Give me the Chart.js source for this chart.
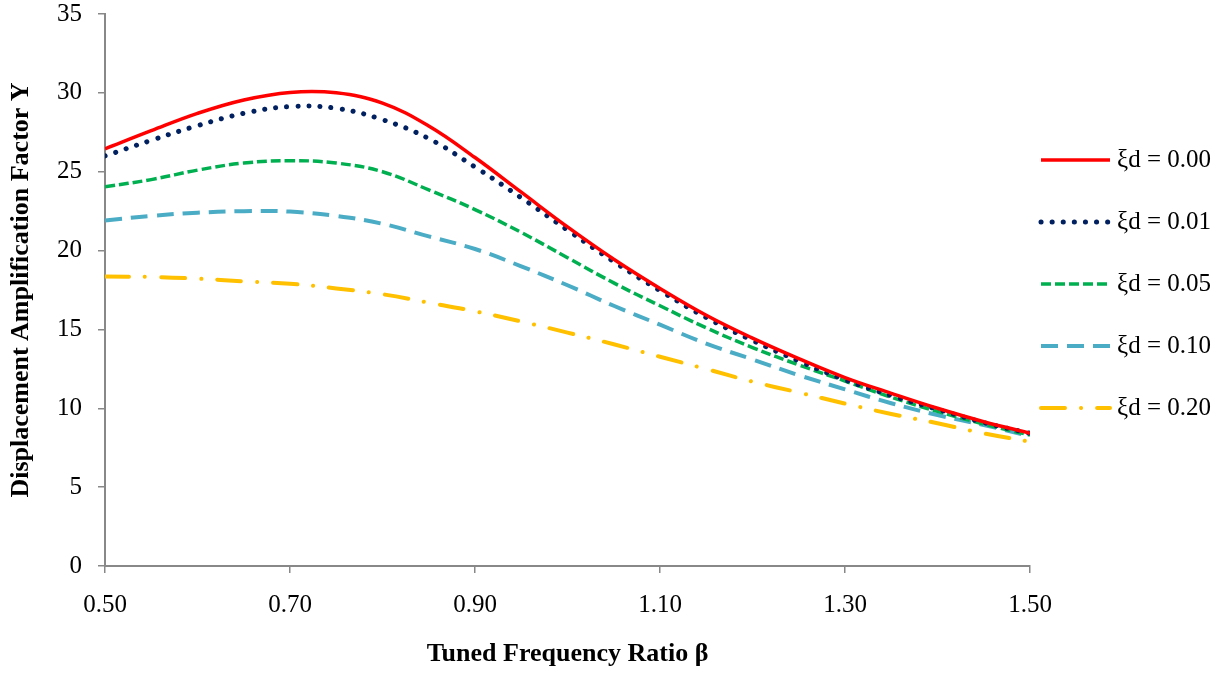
<!DOCTYPE html>
<html lang="en">
<head>
<meta charset="UTF-8">
<title>Displacement Amplification Factor</title>
<style>
  body { margin: 0; background: #fff; }
  #wrap { width: 1228px; height: 674px; position: relative; }
</style>
</head>
<body>
<div id="wrap"><canvas id="chart"></canvas></div>
<script src="https://cdn.jsdelivr.net/npm/chart.js"></script>
<script>
// tuned frequency ratio beta
const beta = [0.50, 0.55, 0.60, 0.65, 0.70, 0.75, 0.80, 0.85, 0.90, 0.95, 1.00,
              1.05, 1.10, 1.15, 1.20, 1.25, 1.30, 1.35, 1.40, 1.45, 1.50];

const xTicks = [0.5, 0.7, 0.9, 1.1, 1.3, 1.5];
const yTicks = [0, 5, 10, 15, 20, 25, 30, 35];

// damping of the damper (legend labels)
const damping = ['0.00', '0.01', '0.05', '0.10', '0.20'];

// amplification factor Y
const y000 = [26.45, 27.6, 28.7, 29.55, 30.03, 30.0, 29.35, 27.9, 25.9, 23.7, 21.5,
              19.45, 17.6, 15.9, 14.45, 13.15, 11.95, 10.95, 10.0, 9.15, 8.42];
const y001 = [26.0, 26.99, 27.92, 28.7, 29.13, 29.02, 28.3, 27.1, 25.3, 23.35, 21.3,
              19.3, 17.46, 15.75, 14.3, 13.0, 11.8, 10.8, 9.93, 9.09, 8.41];
const y005 = [24.05, 24.5, 25.1, 25.55, 25.7, 25.55, 25.0, 23.85, 22.6, 21.15, 19.55,
              17.95, 16.5, 15.1, 13.85, 12.75, 11.73, 10.7, 9.8, 9.0, 8.3];
const y010 = [21.9, 22.2, 22.4, 22.5, 22.47, 22.2, 21.7, 20.9, 20.1, 19.0, 17.8,
              16.5, 15.3, 14.1, 13.1, 12.1, 11.2, 10.32, 9.57, 8.94, 8.24];
const y020 = [18.35, 18.33, 18.22, 18.05, 17.9, 17.6, 17.23, 16.7, 16.15, 15.5, 14.8,
              14.06, 13.27, 12.49, 11.69, 11.0, 10.3, 9.64, 9.05, 8.41, 7.88];

const serif = "'Liberation Serif', 'Times New Roman', serif";
const axisGrey = '#888888';

function pts(ys) {
    return beta.map((b, i) => ({ x: b, y: ys[i] }));
}

function line(label, ys, color, width, dash, cap) {
    return {
        label: 'ξd = ' + label,
        data: pts(ys),
        borderColor: color,
        backgroundColor: color,
        borderWidth: width,
        borderDash: dash,
        borderCapStyle: cap,
        pointRadius: 0,
        tension: 0.4,
        fill: false
    };
}

// legend drawn by hand: long line samples, wide row spacing
const sideLegend = {
    id: 'sideLegend',
    afterDraw(chart) {
        const ctx = chart.ctx;
        const area = chart.chartArea;
        const x1 = area.right + 11;
        const x2 = x1 + 69;
        const midY = (area.top + area.bottom) / 2 - 6;
        const step = 62;
        const n = chart.data.datasets.length;
        chart.data.datasets.forEach((ds, i) => {
            const y = midY + (i - (n - 1) / 2) * step;
            ctx.save();
            ctx.strokeStyle = ds.borderColor;
            ctx.lineWidth = ds.borderWidth;
            ctx.lineCap = ds.borderCapStyle;
            ctx.setLineDash(ds.borderDash);
            ctx.beginPath();
            ctx.moveTo(x1, y);
            ctx.lineTo(x2, y);
            ctx.stroke();
            ctx.setLineDash([]);
            ctx.fillStyle = '#000';
            ctx.font = '25px ' + serif;
            ctx.textBaseline = 'middle';
            ctx.textAlign = 'left';
            ctx.fillText(ds.label, x2 + 7, y);
            ctx.restore();
        });
    }
};

const ctx = document.getElementById('chart').getContext('2d');
new Chart(ctx, {
    type: 'line',
    data: {
        datasets: [
            line(damping[0], y000, '#FF0000', 3.5, [], 'butt'),
            line(damping[1], y001, '#002060', 5, [0.1, 11], 'round'),
            line(damping[2], y005, '#00B050', 3.5, [10, 4], 'butt'),
            line(damping[3], y010, '#4BACC6', 4, [17, 9], 'butt'),
            line(damping[4], y020, '#FFC000', 4, [24, 16, 0.1, 16], 'round')
        ]
    },
    options: {
        responsive: true,
        maintainAspectRatio: false,
        animation: false,
        layout: { padding: { top: 14, right: 198, bottom: 0, left: 0 } },
        plugins: {
            legend: { display: false },
            tooltip: { enabled: false }
        },
        scales: {
            x: {
                type: 'linear',
                min: 0.5,
                max: 1.5,
                afterBuildTicks: (scale) => { scale.ticks = xTicks.map(v => ({ value: v })); },
                afterFit: (scale) => {
                    scale.height = 108;
                    scale.paddingLeft = 0;
                    scale.paddingRight = 0;
                },
                ticks: {
                    color: '#000',
                    font: { family: serif, size: 25 },
                    padding: 17,
                    maxRotation: 0,
                    callback: (v) => Number(v).toFixed(2)
                },
                grid: { drawOnChartArea: false, tickLength: 7, color: axisGrey, lineWidth: 1.5 },
                border: { color: axisGrey, width: 2 },
                title: {
                    display: true,
                    text: 'Tuned Frequency Ratio β',
                    color: '#000',
                    font: { family: serif, size: 26, weight: 'bold' },
                    padding: { top: 0, bottom: 4 }
                }
            },
            y: {
                min: 0,
                max: 35,
                afterBuildTicks: (scale) => { scale.ticks = yTicks.map(v => ({ value: v })); },
                afterFit: (scale) => {
                    scale.width = 105;
                    scale.paddingTop = 0;
                    scale.paddingBottom = 0;
                },
                ticks: {
                    color: '#000',
                    font: { family: serif, size: 25 },
                    padding: 16
                },
                grid: { drawOnChartArea: false, tickLength: 7, color: axisGrey, lineWidth: 1.5 },
                border: { color: axisGrey, width: 2 },
                title: {
                    display: true,
                    text: 'Displacement Amplification Factor Y',
                    color: '#000',
                    font: { family: serif, size: 26, weight: 'bold' },
                    padding: { top: 6, bottom: 0 }
                }
            }
        }
    },
    plugins: [sideLegend]
});
</script>
</body>
</html>
